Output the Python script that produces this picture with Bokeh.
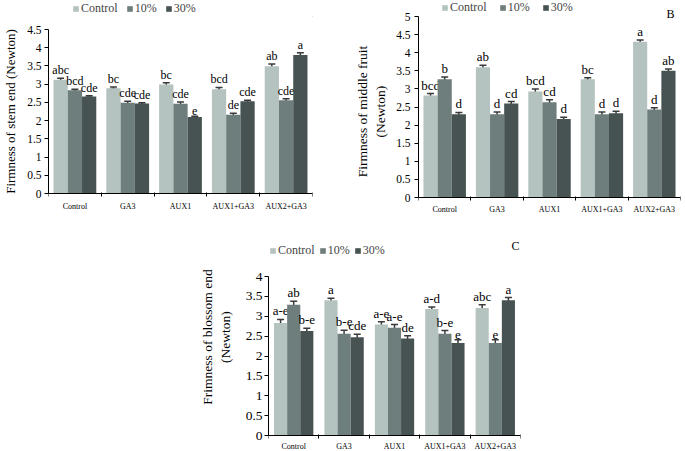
from bokeh.plotting import figure
from bokeh.models import (ColumnDataSource, Whisker, TeeHead, Legend, LegendItem, Label,
                          FixedTicker, CustomJSTickFormatter, Spacer, Range1d)
from bokeh.layouts import column, row
from bokeh.core.properties import value
from bokeh.embed import file_html
from bokeh.resources import INLINE

treatments = ["Control", "GA3", "AUX1", "AUX1+GA3", "AUX2+GA3"]
series = ["Control", "10%", "30%"]
colors = ["#b4c3c0", "#6e7e7c", "#475352"]

# Panel A: firmness of stem end
a_control = [3.12, 2.89, 2.99, 2.86, 3.49]
a_10 = [2.83, 2.49, 2.46, 2.16, 2.56]
a_30 = [2.66, 2.47, 2.10, 2.53, 3.80]
a_err_control = [0.04, 0.03, 0.05, 0.05, 0.06]
a_err_10 = [0.03, 0.04, 0.05, 0.04, 0.04]
a_err_30 = [0.02, 0.02, 0.02, 0.03, 0.06]
a_let_control = ["abc", "bc", "bc", "bcd", "ab"]
a_let_10 = ["bcd", "cde", "cde", "de", "cde"]
a_let_30 = ["cde", "cde", "e", "cde", "a"]
a_ticks = [0, 0.5, 1, 1.5, 2, 2.5, 3, 3.5, 4, 4.5]

# Panel B: firmness of middle fruit
b_control = [2.82, 3.60, 2.93, 3.27, 4.30]
b_10 = [3.27, 2.30, 2.63, 2.30, 2.43]
b_30 = [2.30, 2.60, 2.17, 2.33, 3.50]
b_err_control = [0.05, 0.05, 0.07, 0.04, 0.05]
b_err_10 = [0.06, 0.06, 0.07, 0.06, 0.05]
b_err_30 = [0.05, 0.05, 0.05, 0.05, 0.05]
b_let_control = ["bcd", "ab", "bcd", "bc", "a"]
b_let_10 = ["b", "d", "cd", "d", "d"]
b_let_30 = ["d", "cd", "d", "d", "ab"]
b_ticks = [0, 0.5, 1, 1.5, 2, 2.5, 3, 3.5, 4, 4.5, 5]

# Panel C: firmness of blossom end
c_control = [2.83, 3.40, 2.79, 3.18, 3.21]
c_10 = [3.29, 2.56, 2.71, 2.56, 2.33]
c_30 = [2.63, 2.47, 2.44, 2.33, 3.40]
c_err_control = [0.09, 0.05, 0.07, 0.05, 0.08]
c_err_10 = [0.09, 0.09, 0.08, 0.08, 0.08]
c_err_30 = [0.07, 0.08, 0.07, 0.08, 0.07]
c_let_control = ["a-e", "a", "a-e", "a-d", "abc"]
c_let_10 = ["ab", "b-e", "a-e", "b-e", "e"]
c_let_30 = ["b-e", "cde", "de", "e", "a"]
c_ticks = [0, 0.5, 1, 1.5, 2, 2.5, 3, 3.5, 4]

FONT = "Liberation Serif"


def make_panel(vals, errs, lets, ticks, ylabel, tag, cfg):
    H = cfg["height"]
    # pixel rows (from the top of the figure) of the value 0 and of the top tick
    p0, pt = cfg["p0"], cfg["pt"]
    s = (p0 - pt) / ticks[-1]
    y_end = p0 / s
    y_start = -(H - p0) / s
    p = figure(width=cfg["width"], height=H, output_backend="svg",
               toolbar_location=None, x_range=Range1d(-0.5, 4.5),
               y_range=Range1d(y_start, y_end),
               min_border_left=cfg["bl"], min_border_right=cfg["br"],
               min_border_top=0, min_border_bottom=0)
    p.outline_line_color = None
    p.xgrid.visible = False
    p.ygrid.visible = False
    p.background_fill_color = None
    p.border_fill_color = None

    bw = cfg["bw"]
    legend_items = []
    for j in range(3):
        xs = [i + (j - 1) * bw for i in range(len(treatments))]
        tops = vals[j]
        src = ColumnDataSource(dict(x=xs, top=tops,
                                    upper=[t + e for t, e in zip(tops, errs[j])],
                                    lower=[t - e for t, e in zip(tops, errs[j])],
                                    lab=lets[j]))
        r = p.vbar(x="x", top="top", width=bw, bottom=0, source=src,
                   fill_color=colors[j], line_color=None)
        legend_items.append(LegendItem(label=series[j], renderers=[r]))
        w = Whisker(base="x", upper="upper", lower="lower", source=src,
                    line_color="#3a3a3a", line_width=1.5,
                    upper_head=TeeHead(size=7, line_color="#3a3a3a", line_width=1.5),
                    lower_head=TeeHead(size=7, line_color="#3a3a3a", line_width=1.5))
        p.add_layout(w)
        p.text(x="x", y="upper", text="lab", source=src, text_align="center",
               text_baseline="bottom", y_offset=-1,
               text_font=value(FONT), text_font_size=cfg["letfs"], text_color="black")

    # y axis
    ya = p.yaxis[0]
    ya.ticker = FixedTicker(ticks=ticks)
    ya.bounds = (ticks[0], ticks[-1])
    ya.formatter = CustomJSTickFormatter(code="return String(tick)")
    ya.axis_label = ylabel
    ya.axis_label_text_font = FONT
    ya.axis_label_text_font_style = "normal"
    ya.axis_label_text_font_size = cfg["labfs"]
    ya.axis_label_text_color = "black"
    ya.axis_label_standoff = cfg["als"]
    ya.major_label_text_font = FONT
    ya.major_label_text_font_size = cfg["tickfs"]
    ya.major_label_text_color = "black"
    ya.major_label_standoff = cfg["mls"]
    ya.major_tick_out = 4
    ya.major_tick_in = 0
    ya.minor_tick_line_color = None
    ya.axis_line_color = "black"
    ya.major_tick_line_color = "black"

    # x axis drawn at value 0: labels at centers, tick marks at category boundaries
    xa = p.xaxis[0]
    xa.fixed_location = 0
    xa.ticker = FixedTicker(ticks=list(range(len(treatments))),
                            minor_ticks=[i - 0.5 for i in range(len(treatments) + 1)])
    xa.major_label_overrides = {i: t for i, t in enumerate(treatments)}
    xa.major_label_text_font = FONT
    xa.major_label_text_font_size = cfg["catfs"]
    xa.major_label_text_color = "black"
    xa.major_label_standoff = cfg["xls"]
    xa.major_tick_line_color = None
    xa.major_tick_out = 0
    xa.major_tick_in = 0
    xa.minor_tick_line_color = "black"
    xa.minor_tick_out = 3
    xa.minor_tick_in = 1
    xa.axis_line_color = "black"

    legend = Legend(items=legend_items, location=cfg["legloc"], orientation="horizontal",
                    border_line_color=None, background_fill_alpha=0, padding=0, margin=0,
                    spacing=cfg["legsp"], glyph_width=7, glyph_height=7, label_standoff=2,
                    label_text_font=FONT, label_text_font_size="12px", label_height=12)
    p.add_layout(legend, "center")

    p.add_layout(Label(x=cfg["tagpos"][0], y=cfg["tagpos"][1], x_units="screen",
                       y_units="screen", text=tag, text_font=FONT,
                       text_font_size="12px", text_align="center",
                       text_baseline="middle", text_color="black"))
    return p


pA = make_panel([a_control, a_10, a_30], [a_err_control, a_err_10, a_err_30],
                [a_let_control, a_let_10, a_let_30], a_ticks,
                "Firmness of stem end (Newton)", "A",
                dict(width=340, height=222, bl=42, br=28, p0=193, pt=29,
                     bw=0.27, letfs="12px", labfs="13px", tickfs="11.5px", catfs="8px",
                     als=6, mls=3, xls=5, legloc=(24, 206), legsp=8, tagpos=(268, 210)))

pB = make_panel([b_control, b_10, b_30], [b_err_control, b_err_10, b_err_30],
                [b_let_control, b_let_10, b_let_30], b_ticks,
                "Firmness of middle fruit\n(Newton)", "B",
                dict(width=345, height=222, bl=78, br=5, p0=197, pt=16,
                     bw=0.27, letfs="13px", labfs="13.5px", tickfs="11.5px", catfs="8px",
                     als=5, mls=4, xls=4, legloc=(23, 207), legsp=12, tagpos=(252, 209)))

pC = make_panel([c_control, c_10, c_30], [c_err_control, c_err_10, c_err_30],
                [c_let_control, c_let_10, c_let_30], c_ticks,
                "Frimness of blossom end\n(Newton)", "C",
                dict(width=340, height=229, bl=78, br=10, p0=213, pt=54,
                     bw=0.26, letfs="13px", labfs="13.5px", tickfs="13.5px", catfs="8px",
                     als=10, mls=2, xls=3, legloc=(1, 193), legsp=4, tagpos=(247, 206)))

layout = column(row(pA, pB), row(Spacer(width=190, height=229), pC))

open("out.html", "w").write(file_html(layout, INLINE))
